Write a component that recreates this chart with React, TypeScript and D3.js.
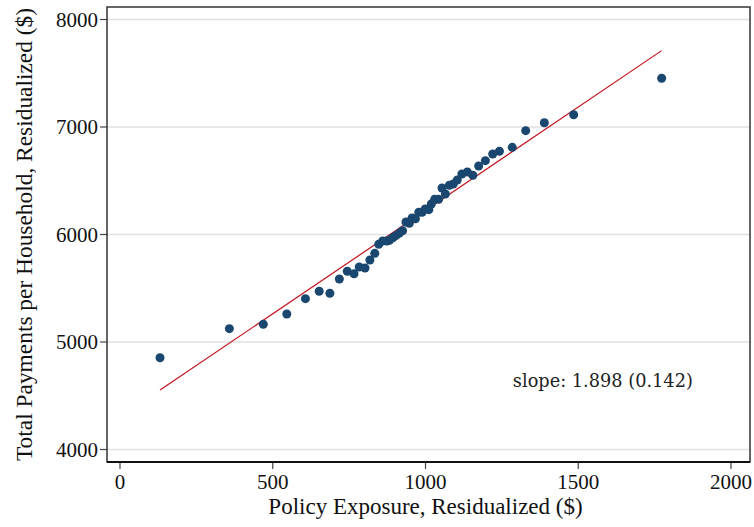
import React from "react";
import * as d3 from "d3";

const xValues = [131, 358, 469, 546, 607, 652, 687, 718, 744, 766, 783, 802, 818, 834, 847, 860, 873, 882, 893, 903, 914, 925, 936, 947, 956, 967, 978, 989, 999, 1011, 1019, 1030, 1043, 1054, 1065, 1078, 1091, 1104, 1119, 1137, 1155, 1174, 1196, 1220, 1242, 1284, 1328, 1389, 1485, 1773];
const yValues = [4854, 5124, 5165, 5260, 5403, 5472, 5453, 5586, 5658, 5635, 5698, 5688, 5763, 5825, 5909, 5940, 5940, 5946, 5970, 5989, 6011, 6035, 6116, 6104, 6153, 6147, 6207, 6207, 6237, 6231, 6284, 6327, 6327, 6433, 6377, 6458, 6470, 6507, 6563, 6581, 6551, 6637, 6687, 6749, 6774, 6811, 6966, 7040, 7114, 7453];
const fitIntercept = 4301;
const fitSlope = 1.923;
const xTicks = [0, 500, 1000, 1500, 2000];
const yTicks = [4000, 5000, 6000, 7000, 8000];
const xTitle = "Policy Exposure, Residualized ($)";
const yTitle = "Total Payments per Household, Residualized ($)";
const annotation = "slope: 1.898 (0.142)";
const annotationPos = [1286, 4580];

export default function App() {
  const W = 754, H = 527;
  const left = 107, right = 750, top = 7, bottom = 462;
  const x = d3.scaleLinear().domain([0, 2000]).range([120, 731]);
  const y = d3.scaleLinear().domain([4000, 8000]).range([449.5, 19.5]);
  const pts = xValues.map((v, i) => [v, yValues[i]]);
  const x0 = d3.min(xValues)!, x1 = d3.max(xValues)!;
  const line = d3.line<number>().x((d) => x(d)).y((d) => y(fitIntercept + fitSlope * d));
  const font = "'Liberation Serif', 'Times New Roman', serif";
  return (
    <svg width={W} height={H} style={{ position: "absolute", left: 0, top: 0, background: "#fff" }} fontFamily={font}>
      <rect x={0} y={0} width={W} height={H} fill="#fff" />
      {yTicks.map((t) => (
        <g key={t}>
          <line x1={left} x2={right} y1={y(t)} y2={y(t)} stroke="#e1e1e1" strokeWidth={1.5} />
          <line x1={left - 7} x2={left} y1={y(t)} y2={y(t)} stroke="#444" strokeWidth={1.2} />
          <text x={left - 9} y={y(t)} dy="0.35em" textAnchor="end" fontSize={21} fill="#111">{t}</text>
        </g>
      ))}
      {xTicks.map((t) => (
        <g key={t}>
          <line x1={x(t)} x2={x(t)} y1={bottom} y2={bottom + 7} stroke="#444" strokeWidth={1.2} />
          <text x={x(t)} y={bottom + 27} textAnchor="middle" fontSize={21} fill="#111">{t}</text>
        </g>
      ))}
      <rect x={left} y={top} width={right - left} height={bottom - top} fill="none" stroke="#333" strokeWidth={1.5} />
      <line x1={left} x2={right} y1={bottom} y2={bottom} stroke="#111" strokeWidth={2} />
      <path d={line([x0, x1]) || ""} stroke="#c0101a" strokeWidth={1.2} fill="none" />
      {pts.map((p, i) => (
        <circle key={i} cx={x(p[0])} cy={y(p[1])} r={4.5} fill="#1a476f" />
      ))}
      <text x={x(annotationPos[0])} y={y(annotationPos[1])} fontSize={19} fill="#222" fontFamily="'DejaVu Serif', serif" textLength={180} lengthAdjust="spacingAndGlyphs">{annotation}</text>
      <text x={(left + right) / 2 - 3} y={514} textAnchor="middle" fontSize={23} fill="#111">{xTitle}</text>
      <text transform={`translate(32, ${(top + bottom) / 2}) rotate(-90)`} textAnchor="middle" fontSize={23.4} fill="#111">{yTitle}</text>
    </svg>
  );
}
